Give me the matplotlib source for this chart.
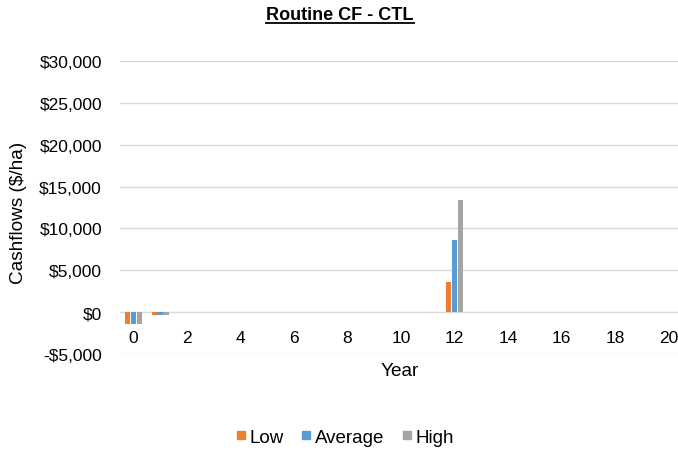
import numpy as np
import matplotlib
matplotlib.use("Agg")
import matplotlib.pyplot as plt
from matplotlib.lines import Line2D
from matplotlib.ticker import FuncFormatter

plt.rcParams['font.family'] = ['Liberation Sans', 'DejaVu Sans']

years = list(range(0, 21))
low = [-1450, -300, 0, 0, 0, 0, 0, 0, 0, 0, 0, 0, 3600, 0, 0, 0, 0, 0, 0, 0, 0]
average = [-1450, -300, 0, 0, 0, 0, 0, 0, 0, 0, 0, 0, 8650, 0, 0, 0, 0, 0, 0, 0, 0]
high = [-1450, -300, 0, 0, 0, 0, 0, 0, 0, 0, 0, 0, 13400, 0, 0, 0, 0, 0, 0, 0, 0]

series = [("Low", low, "#ed7d31"), ("Average", average, "#5b9bd5"), ("High", high, "#a5a5a5")]

fig = plt.figure(figsize=(6.78, 4.52), dpi=100)
ax = fig.add_axes([120 / 678, 1 - 355 / 452, 562 / 678, (355 - 62) / 452])

x = np.arange(len(years))
w = 0.2
for i, (name, vals, col) in enumerate(series):
    ax.bar(x + (i - 1) * (w + 0.02), vals, width=w, color=col, label=name, zorder=3)

ax.set_xlim(-0.5, 20.5)
ax.set_ylim(-5000, 30000)
ax.set_yticks(range(-5000, 30001, 5000))
ax.yaxis.set_major_formatter(FuncFormatter(lambda v, p: f"${v:,.0f}" if v >= 0 else f"-${-v:,.0f}"))
ax.set_xticks(x[::2])
ax.set_xticklabels([str(y) for y in years[::2]])
ax.grid(axis='y', color='#d9d9d9', linewidth=1, zorder=0)

for s in ['top', 'right', 'left']:
    ax.spines[s].set_visible(False)
ax.spines['bottom'].set_position(('data', 0))
ax.spines['bottom'].set_color('#d9d9d9')
ax.tick_params(axis='both', length=0, labelsize=12.5, colors='#000000')
ax.tick_params(axis='x', pad=13)
ax.tick_params(axis='y', pad=13)

fig.text(19 / 678, 1 - 213 / 452, "Cashflows ($/ha)", rotation=90, ha='center', va='center', fontsize=13.7)
fig.text(400 / 678, 1 - 372 / 452, "Year", ha='center', va='center', fontsize=13.7)
title = fig.text(340 / 678, 1 - 15 / 452, "Routine CF - CTL", ha='center', va='center',
                 fontsize=13, fontweight='bold')

# underline the title under its own extent
fig.canvas.draw()
bb = title.get_window_extent().transformed(fig.transFigure.inverted())
fig.add_artist(plt.Line2D([bb.x0, bb.x1], [bb.y0 - 0.002, bb.y0 - 0.002], color='black', linewidth=1.3))

handles = [Line2D([], [], marker='s', linestyle='', markersize=5.5, color=c) for _, _, c in series]
ax.legend(handles, [n for n, _, _ in series], loc='center',
          bbox_to_anchor=(345 / 678, 1 - 438 / 452), bbox_transform=fig.transFigure,
          ncol=3, frameon=False, fontsize=13.5, handlelength=0.5,
          handletextpad=0.2, columnspacing=0.95)

fig.savefig("out.png", dpi=100)
